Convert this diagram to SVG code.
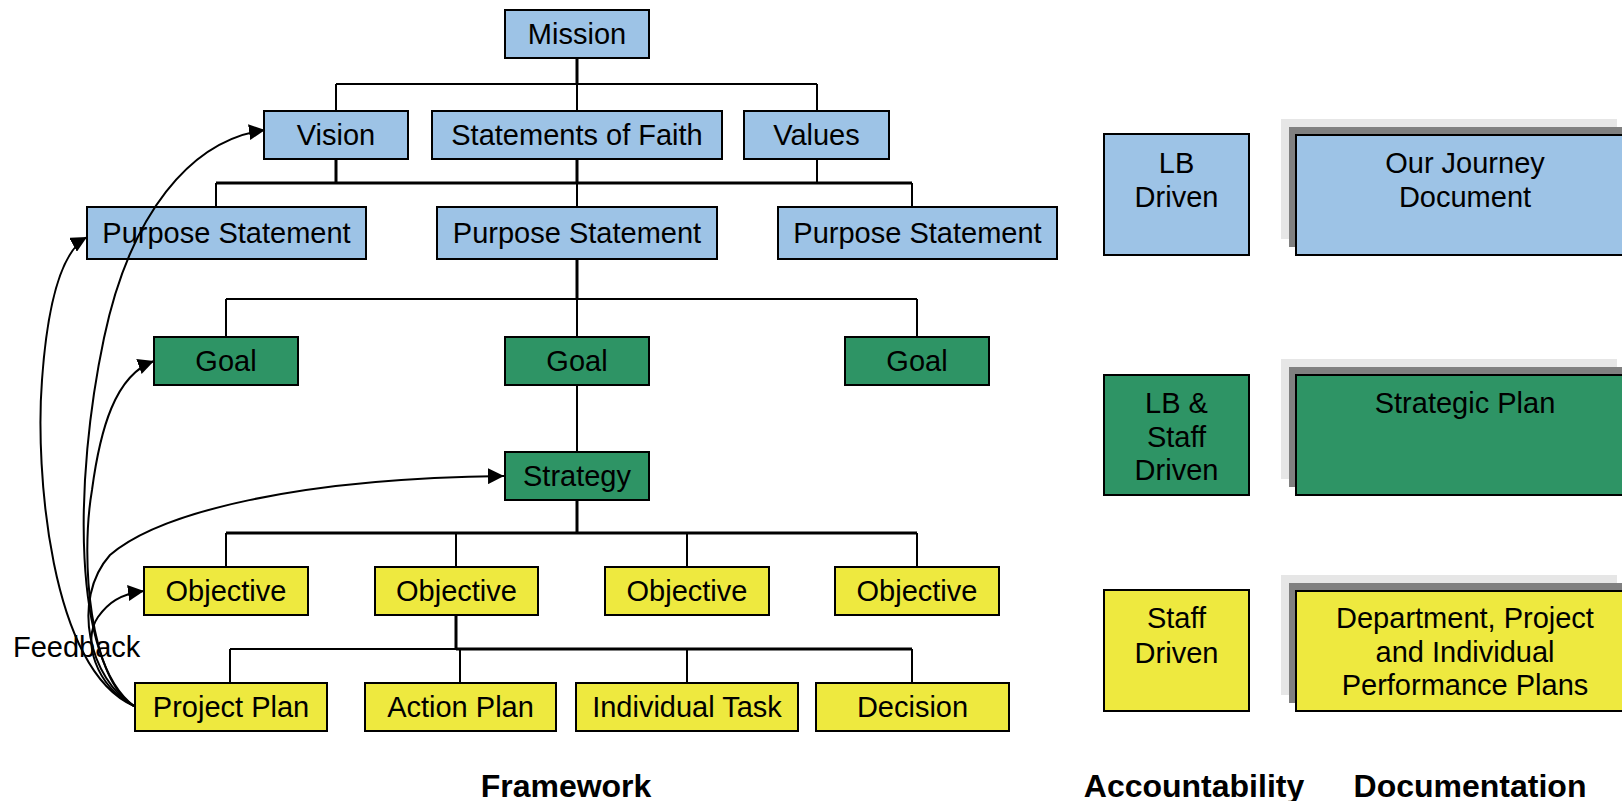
<svg xmlns="http://www.w3.org/2000/svg" width="1622" height="801" viewBox="0 0 1622 801">
<style>
text{font-family:"Liberation Sans",Arial,sans-serif;font-size:29px;fill:#000;text-anchor:middle}
.lbl{font-weight:bold;font-size:32px}
.blue{fill:#9dc3e6;stroke:#000;stroke-width:2}
.green{fill:#2e9465;stroke:#000;stroke-width:2}
.yellow{fill:#eee93f;stroke:#000;stroke-width:2}
.sh1{fill:#e6e6e6}
.sh2{fill:#808080}
.ln{fill:none;stroke:#000;stroke-width:2}
.tk{fill:none;stroke:#000;stroke-width:3}
.fb{fill:none;stroke:#000;stroke-width:2}
</style>
<defs>
<marker id="arr" viewBox="0 0 16 16" refX="16" refY="8" markerWidth="16" markerHeight="16" markerUnits="userSpaceOnUse" orient="auto">
<path d="M0,0 L16,8 L0,16 z" fill="#000"/>
</marker>
</defs>
<rect width="1622" height="801" fill="#fff"/>

<g id="mission"><rect class="blue" x="505" y="10" width="144" height="48"/><text x="577" y="44">Mission</text></g>
<g id="vision"><rect class="blue" x="264" y="111" width="144" height="48"/><text x="336" y="145">Vision</text></g>
<g id="faith"><rect class="blue" x="432" y="111" width="290" height="48"/><text x="577" y="145">Statements of Faith</text></g>
<g id="values"><rect class="blue" x="744" y="111" width="145" height="48"/><text x="816.5" y="145">Values</text></g>
<g id="purpose1"><rect class="blue" x="87" y="207" width="279" height="52"/><text x="226.5" y="243">Purpose Statement</text></g>
<g id="purpose2"><rect class="blue" x="437" y="207" width="280" height="52"/><text x="577" y="243">Purpose Statement</text></g>
<g id="purpose3"><rect class="blue" x="778" y="207" width="279" height="52"/><text x="917.5" y="243">Purpose Statement</text></g>
<g id="goal1"><rect class="green" x="154" y="337" width="144" height="48"/><text x="226" y="371">Goal</text></g>
<g id="goal2"><rect class="green" x="505" y="337" width="144" height="48"/><text x="577" y="371">Goal</text></g>
<g id="goal3"><rect class="green" x="845" y="337" width="144" height="48"/><text x="917" y="371">Goal</text></g>
<g id="strategy"><rect class="green" x="505" y="452" width="144" height="48"/><text x="577" y="486">Strategy</text></g>
<g id="objective1"><rect class="yellow" x="144" y="567" width="164" height="48"/><text x="226" y="601">Objective</text></g>
<g id="objective2"><rect class="yellow" x="375" y="567" width="163" height="48"/><text x="456.5" y="601">Objective</text></g>
<g id="objective3"><rect class="yellow" x="605" y="567" width="164" height="48"/><text x="687" y="601">Objective</text></g>
<g id="objective4"><rect class="yellow" x="835" y="567" width="164" height="48"/><text x="917" y="601">Objective</text></g>
<g id="projectplan"><rect class="yellow" x="135" y="683" width="192" height="48"/><text x="231" y="717">Project Plan</text></g>
<g id="actionplan"><rect class="yellow" x="365" y="683" width="191" height="48"/><text x="460.5" y="717">Action Plan</text></g>
<g id="task"><rect class="yellow" x="576" y="683" width="222" height="48"/><text x="687" y="717">Individual Task</text></g>
<g id="decision"><rect class="yellow" x="816" y="683" width="193" height="48"/><text x="912.5" y="717">Decision</text></g>

<g id="feedback"><text x="13" y="657" style="text-anchor:start">Feedback</text></g>

<g id="acc1"><rect class="blue" x="1104" y="134" width="145" height="121"/><text x="1176.5" y="173">LB</text><text x="1176.5" y="207">Driven</text></g>
<g id="acc2"><rect class="green" x="1104" y="375" width="145" height="120"/><text x="1176.5" y="413">LB &amp;</text><text x="1176.5" y="447">Staff</text><text x="1176.5" y="480">Driven</text></g>
<g id="acc3"><rect class="yellow" x="1104" y="590" width="145" height="121"/><text x="1176.5" y="628">Staff</text><text x="1176.5" y="663">Driven</text></g>

<g id="doc1"><rect class="sh1" x="1281" y="119" width="336" height="120"/><rect class="sh2" x="1289" y="127" width="345" height="120"/><rect class="blue" x="1296" y="135" width="340" height="120"/><text x="1465" y="173">Our Journey</text><text x="1465" y="207">Document</text></g>
<g id="doc2"><rect class="sh1" x="1281" y="359" width="336" height="120"/><rect class="sh2" x="1289" y="367" width="345" height="120"/><rect class="green" x="1296" y="375" width="340" height="120"/><text x="1465" y="413">Strategic Plan</text></g>
<g id="doc3"><rect class="sh1" x="1281" y="575" width="336" height="120"/><rect class="sh2" x="1289" y="583" width="345" height="120"/><rect class="yellow" x="1296" y="591" width="340" height="120"/><text x="1465" y="628">Department, Project</text><text x="1465" y="662">and Individual</text><text x="1465" y="695">Performance Plans</text></g>

<g id="labels"><text class="lbl" x="566" y="797">Framework</text><text class="lbl" x="1194" y="797">Accountability</text><text class="lbl" x="1470" y="797">Documentation</text></g>

<g id="connectors">
<path class="tk" d="M577,59 V84"/>
<path class="ln" d="M336,84 H817 M336,84 V110 M577,84 V110 M817,84 V110"/>
<path class="tk" d="M336,160 V183 M577,160 V183"/>
<path class="ln" d="M577,183 V206 M817,160 V183"/>
<path class="tk" d="M216,183 H912"/>
<path class="ln" d="M216,183 V206 M912,183 V206"/>
<path class="tk" d="M577,260 V299"/>
<path class="ln" d="M577,299 V336 M226,299 H917 M226,299 V336 M917,299 V336"/>
<path class="ln" d="M577,386 V451"/>
<path class="tk" d="M577,501 V533 M226,533 H917"/>
<path class="ln" d="M226,533 V566 M456,533 V566 M687,533 V566 M917,533 V566"/>
<path class="tk" d="M456,616 V649 M456,649 H912"/>
<path class="ln" d="M230,649 H456 M230,649 V682 M460,649 V682 M687,649 V682 M912,649 V682"/>
<path class="fb" marker-end="url(#arr)" d="M134,706 C72,660 74,480 104,338 C130,215 190,140 265,130"/>
<path class="fb" marker-end="url(#arr)" d="M134,706 C50,670 35,470 42,380 C47,310 60,252 87,237"/>
<path class="fb" marker-end="url(#arr)" d="M134,706 C90,680 80,560 92,490 C100,430 115,375 154,361"/>
<path class="fb" marker-end="url(#arr)" d="M134,706 C90,680 70,600 110,555 C160,512 300,478 504,476"/>
<path class="fb" marker-end="url(#arr)" d="M134,706 C95,685 82,640 98,617 C108,603 120,594 144,591"/>
</g>
</svg>
